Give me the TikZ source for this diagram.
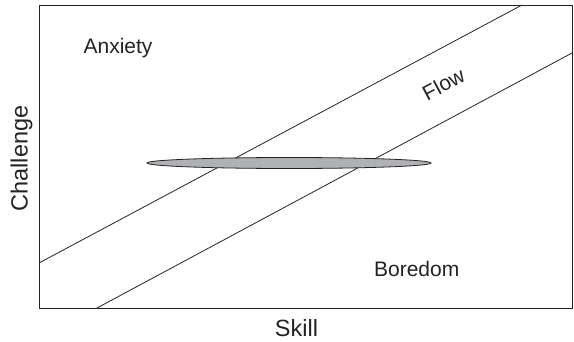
\documentclass[tikz,border=0pt]{standalone}
\usepackage{fontspec}
\setmainfont{Liberation Sans}
\definecolor{bandgray}{RGB}{176,177,180}
\definecolor{inkgray}{RGB}{35,35,35}
\begin{document}
\begin{tikzpicture}[
			x=1pt, y=1pt,
			region/.style={inner sep=0pt, text=inkgray, font=\fontsize{21}{24}\selectfont},
			axislabel/.style={inner sep=0pt, text=inkgray, font=\fontsize{23.5}{27}\selectfont},
			edge/.style={line width=0.8pt, draw=inkgray}
			]
			\useasboundingbox (0,0) rectangle (574,341);
			
			% Frame
			\coordinate (ll) at (39,33);
			\coordinate (ur) at (572,336);
			\draw[edge] (ll) rectangle (ur);
			
			% Flow channel borders
			\coordinate (upA) at (39,78);
			\coordinate (upB) at (522,336);
			\coordinate (loA) at (97,33);
			\coordinate (loB) at (572,288);
			\draw[edge] (upA) -- (upB);
			\draw[edge] (loA) -- (loB);
			
			% Ellipse
			\draw[edge, fill=bandgray] (289,178) ellipse [x radius=142, y radius=5.5];
			
			% Regions
			\node[region, anchor=base] (anxiety) at (118,287.7) {Anxiety};
			\node[region, rotate=28] (flow) at (443.5,257) {Flow};
			\node[region, anchor=base] (boredom) at (416.7,65) {Boredom};
			
			% Axes
			\node[axislabel, anchor=base] (skill) at (296.5,4.7) {Skill};
			\node[axislabel, rotate=90] (challenge) at (21.5,182.5) {Challenge};
			
		\end{tikzpicture}
\end{document}
